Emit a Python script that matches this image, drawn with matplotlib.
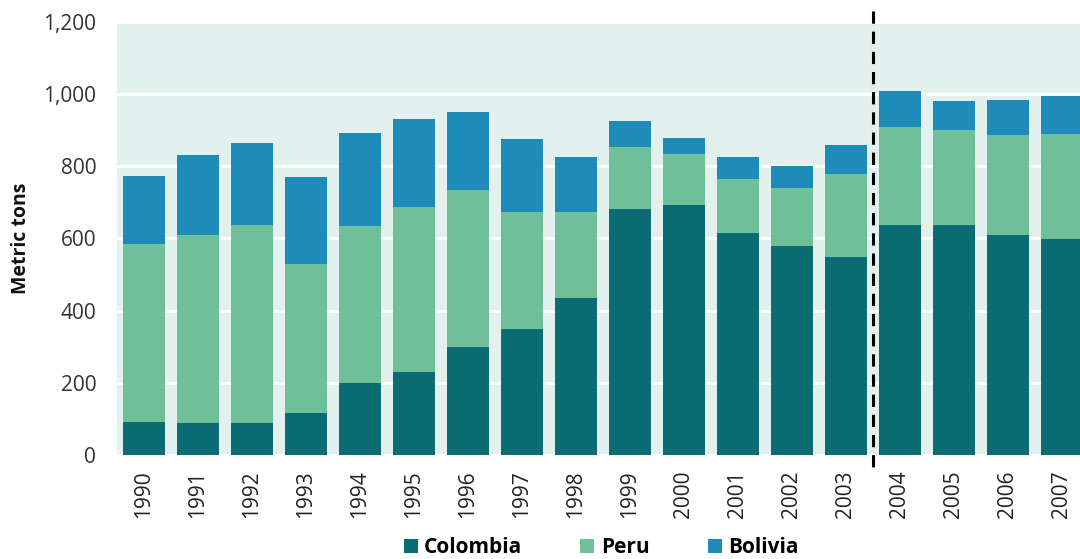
import matplotlib
matplotlib.use("Agg")
import matplotlib.pyplot as plt
from matplotlib.patches import Patch
from matplotlib.lines import Line2D
import numpy as np

years = ["1990", "1991", "1992", "1993", "1994", "1995", "1996", "1997", "1998",
         "1999", "2000", "2001", "2002", "2003", "2004", "2005", "2006", "2007"]
colombia = [91, 88, 88, 116, 199, 229, 298, 348, 434, 680, 693, 616, 580, 547, 638, 638, 608, 599]
peru = [492, 522, 550, 412, 436, 459, 437, 326, 240, 174, 141, 149, 160, 232, 271, 262, 279, 291]
bolivia = [190, 221, 227, 243, 257, 243, 215, 202, 152, 71, 44, 61, 61, 80, 99, 81, 96, 104]
series_names = ["Colombia", "Peru", "Bolivia"]
yticks = [0, 200, 400, 600, 800, 1000, 1200]

colors = ["#0B6C73", "#6FC098", "#1E8BB9"]
bg = "#E2F0EE"

plt.rcParams['font.family'] = ['Open Sans', 'DejaVu Sans']

fig = plt.figure(figsize=(10.8, 5.59), dpi=100)
ax = fig.add_axes([117/1080, 1 - 455/559, (1089 - 117)/1080, (455 - 21.7)/559])
ax.set_facecolor(bg)

x = np.arange(len(years))
w = 0.78
c = np.array(colombia)
p = np.array(peru)
b = np.array(bolivia)
ax.bar(x, c, w, color=colors[0], zorder=3)
ax.bar(x, p, w, bottom=c, color=colors[1], zorder=3)
ax.bar(x, b, w, bottom=c + p, color=colors[2], zorder=3)

ax.set_xlim(-0.5, len(years) - 0.5)
ax.set_ylim(0, 1200)
ax.set_yticks(yticks)
ax.set_yticklabels([f"{v:,}" for v in yticks], fontsize=15, color="#333333")
ax.set_xticks(x)
ax.set_xticklabels(years, rotation=90, fontsize=15, color="#222222")
ax.tick_params(axis="both", length=0)
ax.tick_params(axis="y", pad=15)
ax.tick_params(axis="x", pad=11)
ax.yaxis.grid(True, color="white", linewidth=2.2, zorder=1)
ax.set_axisbelow(True)
for s in ax.spines.values():
    s.set_visible(False)

ax.set_ylabel("Metric tons", fontsize=14, fontweight="bold", color="#111111")
ax.yaxis.set_label_coords(-(117 - 31) / 972, 0.5)

# Dashed separator between 2003 and 2004
sep = Line2D([13.5, 13.5], [1229, -42], color="black", linewidth=2.2,
             linestyle=(0, (4, 2.6)), clip_on=False, zorder=5)
ax.add_line(sep)

handles = [Patch(facecolor=col, edgecolor="none") for col in colors]
leg = fig.legend(handles, series_names, loc="center", ncol=3, frameon=False,
                 bbox_to_anchor=(0.5565, 0.0197), handlelength=0.67, handleheight=0.67,
                 handletextpad=0.3, columnspacing=2.8, borderpad=0,
                 prop={"size": 15, "weight": "bold"})

fig.savefig("out.png", dpi=100)
